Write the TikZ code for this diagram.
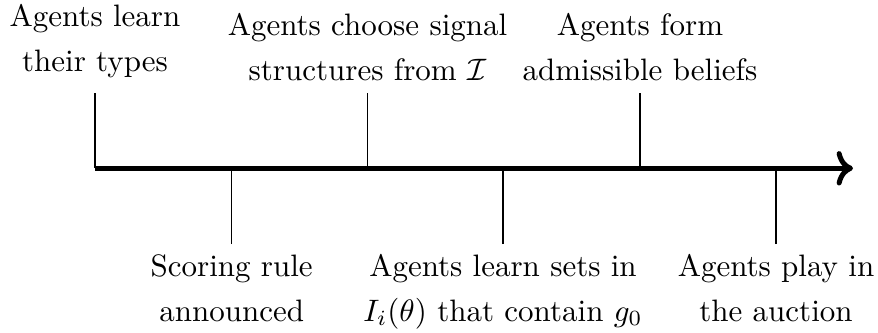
\documentclass[tikz,border=0pt]{standalone}
\usetikzlibrary{arrows.meta}
\begin{document}
\begin{tikzpicture}[x=1pt,y=-1pt,
  lbl/.style={align=center, anchor=base, inner sep=0pt, scale=3.1, font=\fontsize{10}{14.5}\selectfont},
  tick/.style={line width=1.1pt},
  axis/.style={line width=5pt, -{To[scale=1.3]}}]
\useasboundingbox (0,0) rectangle (878,332);
\coordinate (s) at (95,168.3);
\coordinate (e) at (853,168.3);
\coordinate (u1) at (95,93.3);
\coordinate (u2) at (367.5,93.3);
\coordinate (u3) at (640,93.3);
\coordinate (d1) at (231.7,244);
\coordinate (d2) at (503,244);
\coordinate (d3) at (776,244);
\draw[tick] (u1) -- (u1 |- s);
\draw[tick] (u2) -- (u2 |- s);
\draw[tick] (u3) -- (u3 |- s);
\draw[tick] (d1) -- (d1 |- s);
\draw[tick] (d2) -- (d2 |- s);
\draw[tick] (d3) -- (d3 |- s);
\draw[axis] (s) -- (e);
\node[lbl] (t1) at (95,71.5) {Agents learn\\their types};
\node[lbl] (t2) at (367.5,80) {Agents choose signal\\structures from $\mathcal{I}$};
\node[lbl] (t3) at (640,80) {Agents form\\admissible beliefs};
\node[lbl] (b1) at (231.7,321) {Scoring rule\\announced};
\node[lbl] (b2) at (503,321) {Agents learn sets in\\$I_i(\theta)$ that contain $g_0$};
\node[lbl] (b3) at (776,321) {Agents play in\\the auction};
\end{tikzpicture}
\end{document}
